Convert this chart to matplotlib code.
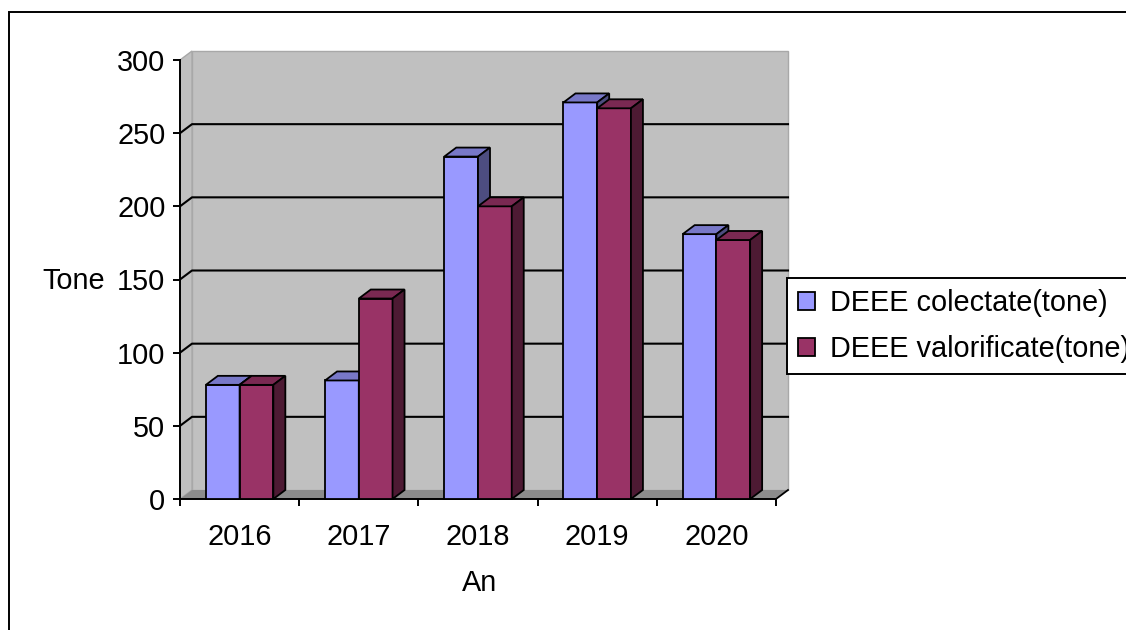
import matplotlib
matplotlib.use('Agg')
import matplotlib.pyplot as plt
from matplotlib.patches import Polygon, Rectangle, Patch
import numpy as np

# data
years = ['2016', '2017', '2018', '2019', '2020']
colectate = [78, 81, 234, 271, 181]
valorificate = [78, 137, 200, 267, 177]
series_names = ['DEEE colectate(tone)', 'DEEE valorificate(tone)']
y_ticks = [0, 50, 100, 150, 200, 250, 300]

front_cols = ['#9999FF', '#993366']
top_cols = ['#7878C8', '#7A2952']
side_cols = ['#4D4D80', '#4D1A33']

plt.rcParams['font.family'] = ['Liberation Sans', 'DejaVu Sans']
fs = 20.8

fig = plt.figure(figsize=(11.26, 6.3), dpi=100)
ax = fig.add_axes([180/1126, 131/630, 596/1126, 439/630])
n = len(years)
ymax = y_ticks[-1]
ax.set_xlim(0, n)
ax.set_ylim(0, ymax)
ax.patch.set_visible(False)

# 3d depth offset (about 12px right, 9px up)
dx = 12 / (596 / n)
dy = 9 * ymax / 439

# walls and floor
wall = Polygon([(dx, dy), (n+dx, dy), (n+dx, ymax+dy), (dx, ymax+dy)],
               fc='#C0C0C0', ec='#A8A8A8', lw=1, zorder=0, clip_on=False)
side = Polygon([(0, 0), (dx, dy), (dx, ymax+dy), (0, ymax)],
               fc='#C0C0C0', ec='#A8A8A8', lw=1, zorder=0, clip_on=False)
floor = Polygon([(0, 0), (n, 0), (n+dx, dy), (dx, dy)],
                fc='#8C8C8C', ec='none', zorder=0.5, clip_on=False)
for p in (wall, side, floor):
    ax.add_patch(p)
ax.plot([n, n+dx], [0, dy], color='k', lw=1.3, clip_on=False, zorder=1)

# gridlines on side wall and back wall
for v in y_ticks[1:-1]:
    ax.plot([0, dx, n+dx], [v, v+dy, v+dy], color='k', lw=1.5,
            clip_on=False, zorder=1)

# bars
w = 0.283
for j, vals in enumerate([colectate, valorificate]):
    for i, h in enumerate(vals):
        x0 = i + 0.5 - w + j*w
        z = 3 + j
        ax.bar(x0, h, width=w, align='edge', color=front_cols[j],
               edgecolor='k', lw=1.3, zorder=z, clip_on=False)
        ax.add_patch(Polygon([(x0, h), (x0+w, h), (x0+w+dx, h+dy), (x0+dx, h+dy)],
                             fc=top_cols[j], ec='k', lw=1.3, zorder=z, clip_on=False))
        ax.add_patch(Polygon([(x0+w, 0), (x0+w+dx, dy), (x0+w+dx, h+dy), (x0+w, h)],
                             fc=side_cols[j], ec='k', lw=1.3, zorder=z, clip_on=False))

for s in ['top', 'right']:
    ax.spines[s].set_visible(False)
for s in ['left', 'bottom']:
    ax.spines[s].set_linewidth(1.4)

ax.set_yticks(y_ticks)
ax.tick_params(axis='y', direction='out', length=5, width=1.4, pad=5.5, labelsize=fs)
ax.set_xticks(np.arange(n+1))
ax.set_xticklabels([])
ax.set_xticks(np.arange(n) + 0.5, minor=True)
ax.set_xticklabels(years, minor=True)
ax.tick_params(axis='x', which='major', direction='out', length=5, width=1.4)
ax.tick_params(axis='x', which='minor', length=0, pad=17, labelsize=fs)

ax.set_ylabel('Tone', rotation=0, fontsize=fs, ha='center', va='center')
ax.yaxis.set_label_coords(-0.178, 0.4966)
ax.set_xlabel('An', fontsize=fs, ha='center', va='center')
ax.xaxis.set_label_coords(0.502, -0.191)

handles = [Patch(fc=front_cols[k], ec='k', lw=1.3, label=series_names[k]) for k in range(2)]
leg = fig.legend(handles=handles, loc='upper left', bbox_to_anchor=(787/1126, 1-278/630),
                 fancybox=False, edgecolor='k', framealpha=1, borderpad=0.38,
                 handlelength=0.6, handleheight=0.6, handletextpad=0.5,
                 labelspacing=0.62, fontsize=fs, borderaxespad=0)
leg.get_frame().set_linewidth(1.4)

# outer chart border
fig.add_artist(Rectangle((9/1126, -0.1), 1.2, 1 - 12/630 + 0.1, transform=fig.transFigure,
                         fill=False, ec='k', lw=1.4))

fig.savefig('out.png', dpi=100)
